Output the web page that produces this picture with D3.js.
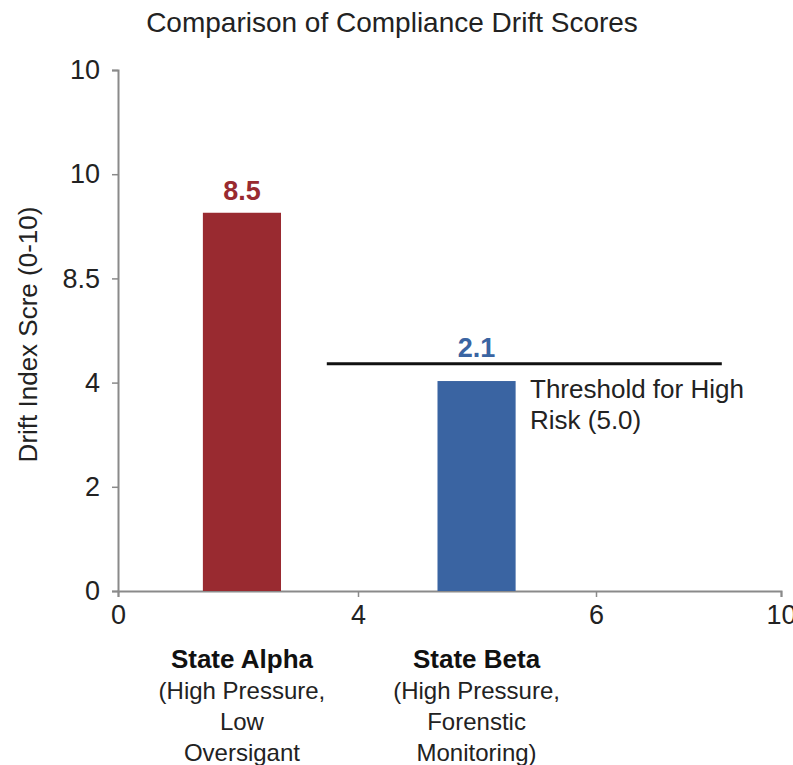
<!DOCTYPE html>
<html>
<head>
<meta charset="utf-8">
<script src="https://cdn.jsdelivr.net/npm/d3@7"></script>
<style>
  html, body { margin: 0; padding: 0; background: #fff; }
  svg { display: block; font-family: "Liberation Sans", Arial, Helvetica, sans-serif; }
</style>
</head>
<body>
<svg id="chart" width="793" height="765"></svg>
<script>
// ---- data ----
const chartTitle = "Comparison of Compliance Drift Scores";
const yAxisTitle = "Drift Index Scre (0-10)";
const categories = ["State Alpha", "State Beta"];
const categorySubLabels = [
  ["(High Pressure,", "Low", "Oversigant"],
  ["(High Pressure,", "Forenstic", "Monitoring)"]
];
const barValues = [7.26, 4.03];          // plotted height on the drawn axis
const barValueLabels = ["8.5", "2.1"];   // printed value labels
const barColors = ["#992a30", "#3a64a2"];
const yTickValues = [0, 2, 4, 6, 8, 10];
const yTickLabels = ["0", "2", "4", "8.5", "10", "10"];
const xTickValues = [0, 1, 2, 3];
const xTickLabels = ["0", "4", "6", "10"];
const thresholdValue = 4.36;             // drawn level on the y axis
const thresholdSpan = [0.87, 2.68];      // extent on the x axis
const thresholdLabel = ["Threshold for High", "Risk (5.0)"];

// ---- layout ----
const svg = d3.select("#chart");
const plotLeft = 118, plotBottom = 591, plotTop = 70;

const y = d3.scaleLinear().domain([0, 10]).range([plotBottom, plotTop]);
const xAxisScale = d3.scaleLinear().domain(xTickValues).range([118, 358, 596, 781]);
const xBand = d3.scaleBand().domain(categories)
  .range([124.75, 593.75]).paddingInner(0.667).paddingOuter(0.333);

// title
svg.append("text")
  .attr("x", 392).attr("y", 32)
  .attr("text-anchor", "middle")
  .attr("font-size", 28).attr("fill", "#222")
  .text(chartTitle);

// y axis
const yAxis = d3.axisLeft(y).tickValues(yTickValues)
  .tickFormat((d, i) => yTickLabels[i]).tickSize(6).tickPadding(12);
const gy = svg.append("g").attr("transform", `translate(${plotLeft},0)`).call(yAxis);
gy.select(".domain").attr("stroke", "#8a8a8a").attr("stroke-width", 2);
gy.selectAll(".tick line").attr("stroke", "#8a8a8a").attr("stroke-width", 1.5);
gy.selectAll(".tick text").attr("font-size", 27).attr("fill", "#222")
  .attr("font-family", "Liberation Sans, Arial, sans-serif");

// x axis
const xAxis = d3.axisBottom(xAxisScale).tickValues(xTickValues)
  .tickFormat((d, i) => xTickLabels[i]).tickSize(6).tickPadding(8);
const gx = svg.append("g").attr("transform", `translate(0,${plotBottom})`).call(xAxis);
gx.select(".domain").attr("stroke", "#8a8a8a").attr("stroke-width", 2);
gx.selectAll(".tick line").attr("stroke", "#8a8a8a").attr("stroke-width", 1.5);
gx.selectAll(".tick text").attr("font-size", 27).attr("fill", "#222")
  .attr("font-family", "Liberation Sans, Arial, sans-serif");

// y axis title
svg.append("text")
  .attr("transform", `translate(37,${(plotTop + plotBottom) / 2 + 4}) rotate(-90)`)
  .attr("text-anchor", "middle")
  .attr("font-size", 26).attr("fill", "#222")
  .text(yAxisTitle);

// bars
svg.selectAll("rect.bar").data(categories).join("rect")
  .attr("class", "bar")
  .attr("x", d => xBand(d))
  .attr("width", xBand.bandwidth())
  .attr("y", (d, i) => y(barValues[i]))
  .attr("height", (d, i) => plotBottom - y(barValues[i]))
  .attr("fill", (d, i) => barColors[i]);

// value labels
svg.selectAll("text.val").data(categories).join("text")
  .attr("class", "val")
  .attr("x", d => xBand(d) + xBand.bandwidth() / 2)
  .attr("y", (d, i) => y(barValues[i]) - (i === 0 ? 13 : 24))
  .attr("text-anchor", "middle")
  .attr("font-size", 27).attr("font-weight", "bold")
  .attr("fill", (d, i) => barColors[i])
  .text((d, i) => barValueLabels[i]);

// threshold line
svg.append("line")
  .attr("x1", xAxisScale(thresholdSpan[0])).attr("x2", xAxisScale(thresholdSpan[1]))
  .attr("y1", y(thresholdValue)).attr("y2", y(thresholdValue))
  .attr("stroke", "#111").attr("stroke-width", 3);

const thr = svg.append("text")
  .attr("x", 530).attr("y", y(thresholdValue) + 34)
  .attr("font-size", 26).attr("fill", "#222");
thresholdLabel.forEach((t, i) => {
  thr.append("tspan").attr("x", 530).attr("dy", i === 0 ? 0 : 31).text(t);
});

// category labels
categories.forEach((c, i) => {
  const cx = xBand(c) + xBand.bandwidth() / 2;
  const t = svg.append("text")
    .attr("x", cx).attr("y", 668)
    .attr("text-anchor", "middle")
    .attr("font-size", 24).attr("fill", "#222");
  t.append("tspan").attr("x", cx).attr("font-weight", "bold").attr("font-size", 26)
    .attr("fill", "#111").text(c);
  categorySubLabels[i].forEach(s => {
    t.append("tspan").attr("x", cx).attr("dy", 31).text(s);
  });
});
</script>
</body>
</html>
